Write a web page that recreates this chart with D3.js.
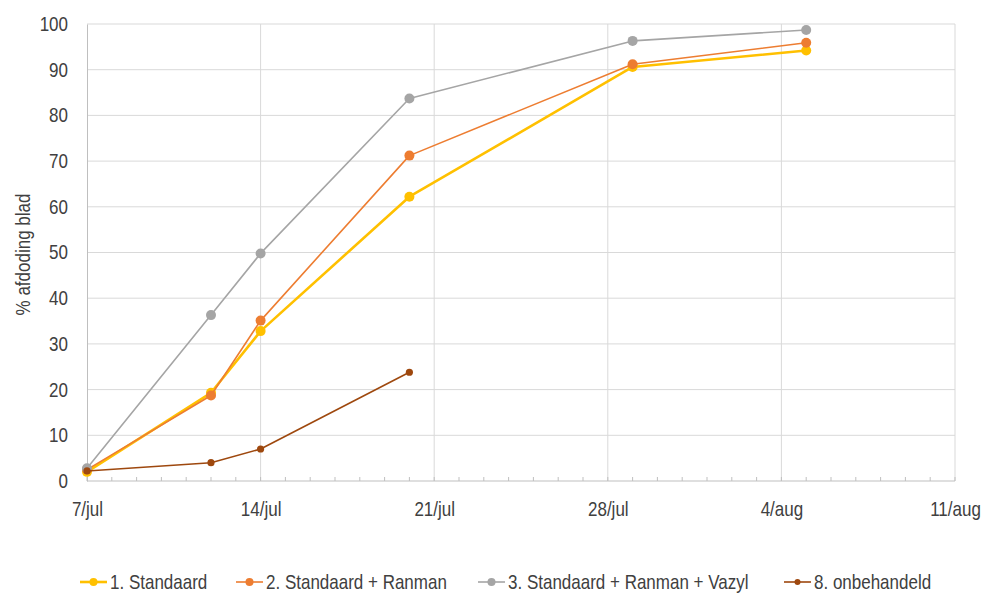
<!DOCTYPE html>
<html>
<head>
<meta charset="utf-8">
<script src="https://cdn.jsdelivr.net/npm/d3@7"></script>
<style>
  body { margin: 0; background: #fff; }
  svg text { font-family: "Liberation Sans", Arial, sans-serif; fill: #404040; font-size: 20px; }
</style>
</head>
<body>
<svg id="chart" width="981" height="593"></svg>
<script>
// Observation dates (2023 season) and % leaf kill per treatment
const dates = ["2023-07-07", "2023-07-12", "2023-07-14", "2023-07-20", "2023-07-29", "2023-08-05"];
const seriesNames = ["1. Standaard", "2. Standaard + Ranman", "3. Standaard + Ranman + Vazyl", "8. onbehandeld"];
const standaard = [2.0, 19.3, 32.8, 62.2, 90.6, 94.2];
const standaardRanman = [2.5, 18.7, 35.1, 71.2, 91.2, 95.9];
const standaardRanmanVazyl = [2.8, 36.3, 49.8, 83.7, 96.3, 98.7];
const onbehandeld = [2.2, 4.0, 7.0, 23.8];
const xTickLabels = ["7/jul", "14/jul", "21/jul", "28/jul", "4/aug", "11/aug"];
const yTicks = [0, 10, 20, 30, 40, 50, 60, 70, 80, 90, 100];
const yTitle = "% afdoding blad";

const colors = ["#FFC000", "#ED7D31", "#A5A5A5", "#9E480E"];
const lineWidths = [2.6, 1.6, 1.6, 1.6];
const markerR = [5, 5, 5, 3.6];
const NARROW = 0.85; // horizontal squeeze giving a condensed sans look

// Condense a text element around its own anchor point
function narrow(sel) {
  sel.each(function () {
    const t = d3.select(this);
    const tx = +t.attr("x") || 0, ty = +t.attr("y") || 0;
    const prev = t.attr("transform") || "";
    t.attr("x", 0).attr("y", 0)
      .attr("transform", `${prev} translate(${tx},${ty}) scale(${NARROW},1)`);
  });
}

const parse = d3.timeParse("%Y-%m-%d");
const svg = d3.select("#chart");
const m = { left: 87, right: 955, top: 24, bottom: 481 };

const x = d3.scaleTime()
  .domain([parse("2023-07-07"), parse("2023-08-11")])
  .range([m.left, m.right]);
const y = d3.scaleLinear().domain([0, 100]).range([m.bottom, m.top]);

const majorDates = d3.timeDay.range(parse("2023-07-07"), d3.timeDay.offset(parse("2023-08-11"), 1), 7);
const minorDates = d3.timeDay.range(parse("2023-07-07"), d3.timeDay.offset(parse("2023-08-11"), 1));

const grid = svg.append("g");
// horizontal gridlines
grid.selectAll("line.h").data(yTicks.slice(1)).join("line")
  .attr("x1", m.left).attr("x2", m.right)
  .attr("y1", d => y(d)).attr("y2", d => y(d))
  .attr("stroke", "#D9D9D9").attr("stroke-width", 1);
// vertical gridlines
grid.selectAll("line.v").data(majorDates.slice(1)).join("line")
  .attr("x1", d => x(d)).attr("x2", d => x(d))
  .attr("y1", m.top).attr("y2", m.bottom)
  .attr("stroke", "#D9D9D9").attr("stroke-width", 1);

// y axis
const yAxis = d3.axisLeft(y).tickValues(yTicks).tickSize(0).tickPadding(19);
const ya = svg.append("g").attr("transform", `translate(${m.left},0)`).call(yAxis);
ya.select(".domain").attr("stroke", "#BFBFBF");
ya.selectAll("text").attr("font-size", null).attr("font-family", null).call(narrow);

// x axis with daily minor ticks pointing inward
const xa = svg.append("g").attr("transform", `translate(0,${m.bottom})`);
xa.append("line").attr("x1", m.left).attr("x2", m.right).attr("stroke", "#BFBFBF");
xa.selectAll("line.minor").data(minorDates).join("line")
  .attr("x1", d => x(d)).attr("x2", d => x(d))
  .attr("y1", 0).attr("y2", -4).attr("stroke", "#BFBFBF");
const xg = svg.append("g").attr("transform", `translate(0,${m.bottom})`)
  .call(d3.axisBottom(x).tickValues(majorDates).tickSize(0).tickPadding(21)
    .tickFormat((d, i) => xTickLabels[i]));
xg.select(".domain").remove();
xg.attr("font-size", null).attr("font-family", null);
xg.selectAll("text").call(narrow);

// y title
svg.append("text")
  .attr("transform", `translate(30,${(m.top + m.bottom) / 2 + 2}) rotate(-90) scale(${NARROW},1)`)
  .attr("text-anchor", "middle")
  .text(yTitle);

// series
const allValues = [standaard, standaardRanman, standaardRanmanVazyl, onbehandeld];
const line = d3.line().x(d => x(d.date)).y(d => y(d.v));
allValues.forEach((vals, i) => {
  const pts = vals.map((v, j) => ({ date: parse(dates[j]), v }));
  const g = svg.append("g");
  g.append("path").datum(pts).attr("d", line)
    .attr("fill", "none").attr("stroke", colors[i]).attr("stroke-width", lineWidths[i])
    .attr("stroke-linejoin", "round");
  g.selectAll("circle").data(pts).join("circle")
    .attr("cx", d => x(d.date)).attr("cy", d => y(d.v)).attr("r", markerR[i])
    .attr("fill", colors[i]);
});

// legend
const legendX = [80, 236, 478, 784];
const lg = svg.append("g").attr("transform", "translate(0,582)");
seriesNames.forEach((name, i) => {
  const item = lg.append("g").attr("transform", `translate(${legendX[i]},0)`);
  item.append("line").attr("x1", 0).attr("x2", 27).attr("y1", 0).attr("y2", 0)
    .attr("stroke", colors[i]).attr("stroke-width", lineWidths[i]);
  item.append("circle").attr("cx", 13.5).attr("cy", 0).attr("r", i === 3 ? 3 : 4).attr("fill", colors[i]);
  item.append("text").attr("x", 30).attr("y", 0).attr("dy", "0.35em")
    .text(name).call(narrow);
});
</script>
</body>
</html>
